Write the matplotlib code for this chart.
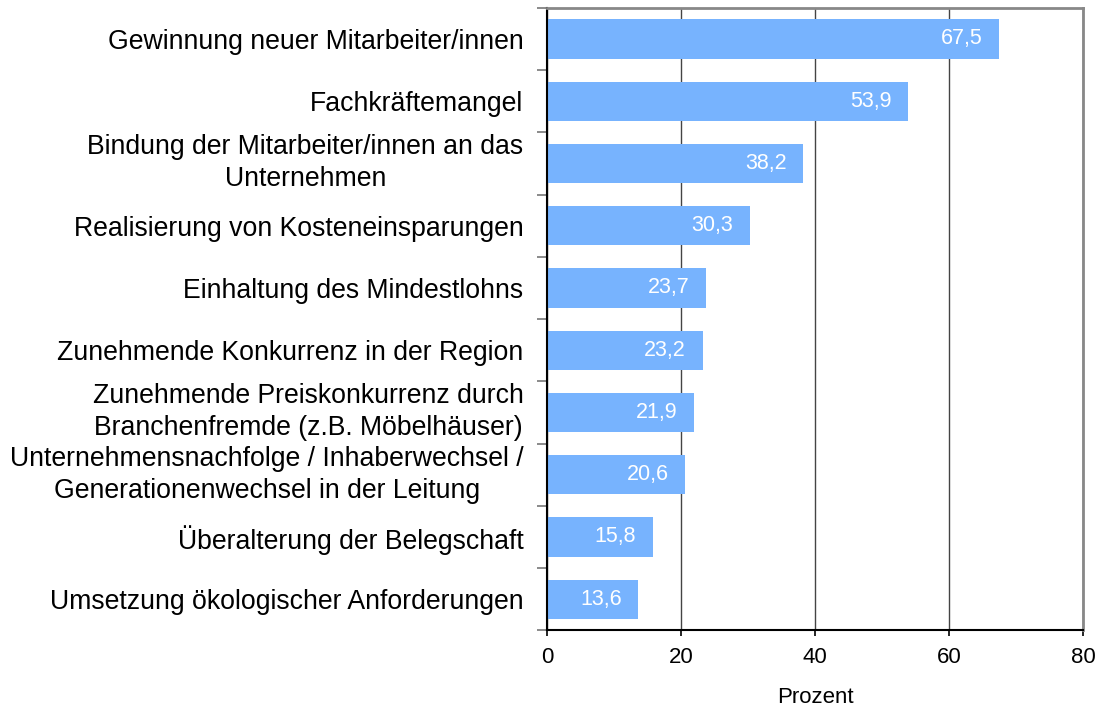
import numpy as np
import matplotlib.pyplot as plt
from matplotlib.ticker import FixedLocator

plt.rcParams['font.family'] = ['Liberation Sans', 'DejaVu Sans']

## categories, top to bottom
labels = [
    'Gewinnung neuer Mitarbeiter/innen',
    'Fachkräftemangel',
    'Bindung der Mitarbeiter/innen an das\nUnternehmen',
    'Realisierung von Kosteneinsparungen',
    'Einhaltung des Mindestlohns',
    'Zunehmende Konkurrenz in der Region',
    'Zunehmende Preiskonkurrenz durch\nBranchenfremde (z.B. Möbelhäuser)',
    'Unternehmensnachfolge / Inhaberwechsel /\nGenerationenwechsel in der Leitung',
    'Überalterung der Belegschaft',
    'Umsetzung ökologischer Anforderungen',
]
values = [67.5, 53.9, 38.2, 30.3, 23.7, 23.2, 21.9, 20.6, 15.8, 13.6]
xticks = [0, 20, 40, 60, 80]

bar_color = '#77b3fe'

fig = plt.figure(figsize=(11.03, 7.09), dpi=100)
ax = fig.add_axes([0.496, 0.111, 0.486, 0.878])

n = len(values)
ypos = np.arange(n)
ax.barh(ypos, values, height=0.63, color=bar_color, zorder=2)

for y, v in zip(ypos, values):
    ax.annotate(f'{v:.1f}'.replace('.', ','), (v, y), xytext=(-12, 0),
                textcoords='offset points', ha='right', va='center',
                color='white', fontsize=15.5, zorder=3)

ax.set_ylim(n - 0.5, -0.5)
ax.set_xlim(0, 80)

ax.set_yticks(ypos)
ax.set_yticklabels(labels, fontsize=19.2, multialignment='center',
                   linespacing=1.3)
# two-line labels sit centred on their bar
for t in ax.get_yticklabels():
    if '\n' in t.get_text():
        t.set_verticalalignment('center')
ax.yaxis.set_minor_locator(FixedLocator(np.arange(-0.5, n, 1.0)))
ax.tick_params(axis='y', which='major', length=0, pad=17)
ax.tick_params(axis='y', which='minor', length=7, width=1.2, color='#777777')

ax.set_xticks(xticks)
ax.set_xticklabels([str(t) for t in xticks], fontsize=16)
ax.tick_params(axis='x', length=4, width=1.2, pad=8)
ax.set_xlabel('Prozent', fontsize=16, labelpad=14)

ax.grid(axis='x', color='#444444', linewidth=1, zorder=1)
ax.set_axisbelow(True)

ax.spines['top'].set_color('#888888')
ax.spines['right'].set_color('#888888')
ax.spines['top'].set_linewidth(2)
ax.spines['right'].set_linewidth(2)
ax.spines['left'].set_linewidth(1.5)
ax.spines['bottom'].set_linewidth(1.5)

fig.savefig('out.png', dpi=100)
